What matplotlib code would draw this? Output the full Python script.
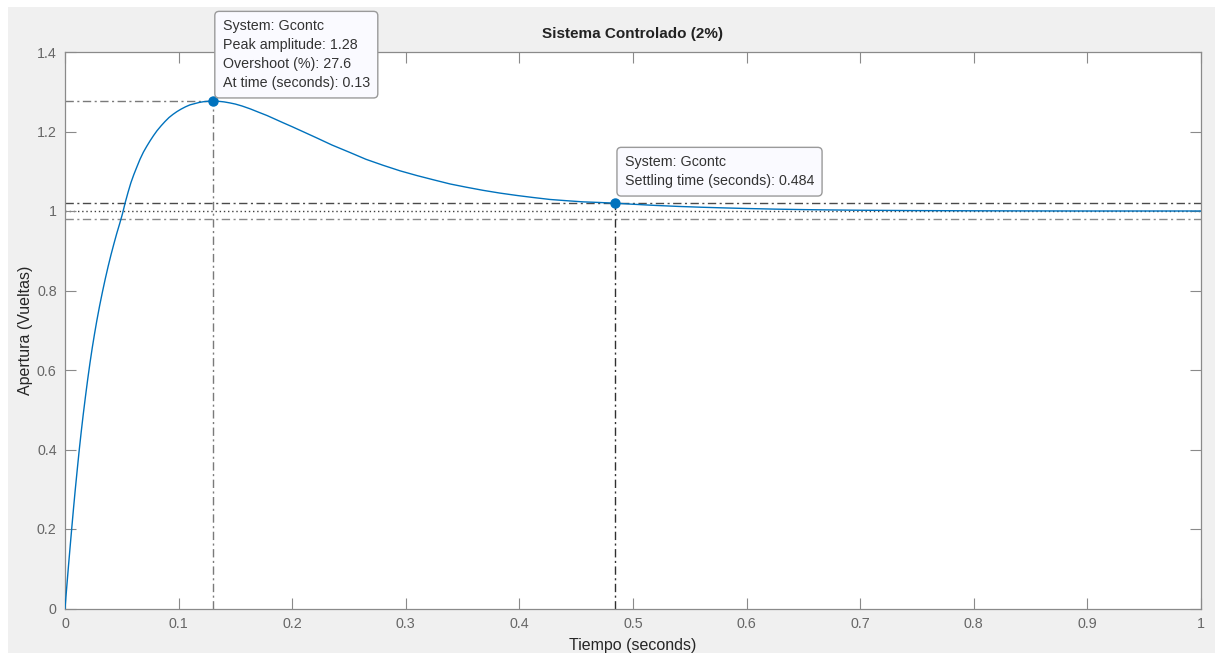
import matplotlib
matplotlib.use('Agg')
import matplotlib.pyplot as plt
from matplotlib.patches import Rectangle

plt.rcParams['font.family'] = ['Liberation Sans', 'DejaVu Sans']

# respuesta al escalon
tiempo = [0, 0.0015, 0.003, 0.0045, 0.006, 0.0075, 0.009, 0.0108, 0.0125, 0.0143,
          0.016, 0.018, 0.02, 0.022, 0.024, 0.026, 0.028, 0.0305, 0.033, 0.0355,
          0.038, 0.0405, 0.043, 0.0455, 0.048, 0.0505, 0.053, 0.0555, 0.058, 0.0605,
          0.063, 0.066, 0.069, 0.072, 0.075, 0.078, 0.081, 0.0845, 0.088, 0.0915,
          0.095, 0.0985, 0.102, 0.106, 0.11, 0.114, 0.118, 0.122, 0.126, 0.13,
          0.135, 0.14, 0.145, 0.15, 0.156, 0.163, 0.17, 0.178, 0.185, 0.192,
          0.2, 0.21, 0.2215, 0.235, 0.251, 0.265, 0.28, 0.295, 0.31, 0.325,
          0.339, 0.353, 0.368, 0.383, 0.398, 0.412, 0.427, 0.441, 0.456, 0.47,
          0.484, 0.5, 0.52, 0.54, 0.56, 0.58, 0.6, 0.625, 0.65, 0.675,
          0.7, 0.75, 0.8, 0.85, 0.9, 1.0]
apertura = [0, 0.053, 0.105, 0.155, 0.204, 0.252, 0.298, 0.35, 0.398, 0.445,
            0.487, 0.533, 0.577, 0.618, 0.656, 0.691, 0.724, 0.762, 0.797, 0.830,
            0.861, 0.890, 0.917, 0.943, 0.967, 0.992, 1.021, 1.047, 1.071, 1.091,
            1.109, 1.130, 1.148, 1.163, 1.177, 1.19, 1.202, 1.214, 1.225, 1.235,
            1.243, 1.25, 1.256, 1.262, 1.267, 1.270, 1.273, 1.275, 1.276, 1.2765,
            1.276, 1.2745, 1.272, 1.269, 1.264, 1.257, 1.249, 1.240, 1.231, 1.222,
            1.212, 1.199, 1.184, 1.166, 1.147, 1.130, 1.115, 1.101, 1.089, 1.078,
            1.068, 1.060, 1.052, 1.045, 1.039, 1.034, 1.029, 1.026, 1.023, 1.0215,
            1.0197, 1.017, 1.014, 1.0115, 1.0095, 1.0078, 1.0063, 1.0047, 1.0035, 1.0026,
            1.0019, 1.001, 1.0005, 1.0002, 1.0, 1.0]

t_pico = 0.13
y_pico = 1.2765
t_estab = 0.484
y_estab = 1.0197
banda = [0.98, 1.02]
x_ticks = [0, 0.1, 0.2, 0.3, 0.4, 0.5, 0.6, 0.7, 0.8, 0.9, 1]
y_ticks = [0, 0.2, 0.4, 0.6, 0.8, 1, 1.2, 1.4]

azul = '#0072BD'
dashdot = (0, (6, 2.5, 1.5, 2.5))

fig = plt.figure(figsize=(12.15, 6.53), dpi=100, facecolor='white')
fig.patches.append(Rectangle((8 / 1215, 0), 1, (653 - 7) / 653, transform=fig.transFigure,
                             facecolor='#f0f0f0', edgecolor='none', zorder=-10))
ax = fig.add_axes([65 / 1215, 44.5 / 653, 1136 / 1215, 556.5 / 653])
ax.set_facecolor('white')

# lineas de referencia
ax.axhline(1.0, color='#404040', lw=1, ls=(0, (1, 2)), zorder=1)
ax.axhline(banda[1], color='#4a4a4a', lw=1, ls=dashdot, zorder=1)
ax.axhline(banda[0], color='#8a8a8a', lw=1, ls=dashdot, zorder=1)
ax.plot([0, t_pico], [y_pico, y_pico], color='#7a7a7a', lw=1, ls=dashdot, zorder=1)
ax.plot([t_pico, t_pico], [0, y_pico], color='#7a7a7a', lw=1, ls=dashdot, zorder=1)
ax.plot([t_estab, t_estab], [0, y_estab], color='#303030', lw=1, ls=dashdot, zorder=1)

ax.plot(tiempo, apertura, color=azul, lw=1.0, zorder=3)
ax.plot([t_pico, t_estab], [y_pico, y_estab], 'o', color=azul, ms=6.5, zorder=4)

caja = dict(boxstyle='round,pad=0.55,rounding_size=0.3', facecolor='#fafaff',
            edgecolor='#9a9a9a', lw=1)
ax.annotate('System: Gcontc\nPeak amplitude: 1.28\nOvershoot (%): 27.6\nAt time (seconds): 0.13',
            xy=(t_pico, y_pico), xytext=(10, 11), textcoords='offset pixels',
            ha='left', va='bottom', fontsize=10.3, color='#333333', linespacing=1.45,
            bbox=caja, zorder=5)
ax.annotate('System: Gcontc\nSettling time (seconds): 0.484',
            xy=(t_estab, y_estab), xytext=(10, 15), textcoords='offset pixels',
            ha='left', va='bottom', fontsize=10.3, color='#333333', linespacing=1.45,
            bbox=caja, zorder=5)

ax.set_xlim(0, 1)
ax.set_ylim(0, 1.4)
ax.set_xticks(x_ticks)
ax.set_xticklabels(['0', '0.1', '0.2', '0.3', '0.4', '0.5', '0.6', '0.7', '0.8', '0.9', '1'])
ax.set_yticks(y_ticks)
ax.set_yticklabels(['0', '0.2', '0.4', '0.6', '0.8', '1', '1.2', '1.4'])
ax.tick_params(direction='in', length=8, width=0.8, color='#8a8a8a', labelcolor='#666666',
               labelsize=10.3, top=True, right=True, pad=6)
for s in ax.spines.values():
    s.set_color('#8a8a8a')
    s.set_linewidth(0.9)

ax.set_title('Sistema Controlado (2%)', fontsize=11, fontweight='bold', color='#222222', pad=10)
ax.set_xlabel('Tiempo (seconds)', fontsize=11.5, color='#262626', labelpad=5)
ax.set_ylabel('Apertura (Vueltas)', fontsize=11.5, color='#262626', labelpad=3)

fig.savefig('out.png', dpi=100, facecolor=fig.get_facecolor())
